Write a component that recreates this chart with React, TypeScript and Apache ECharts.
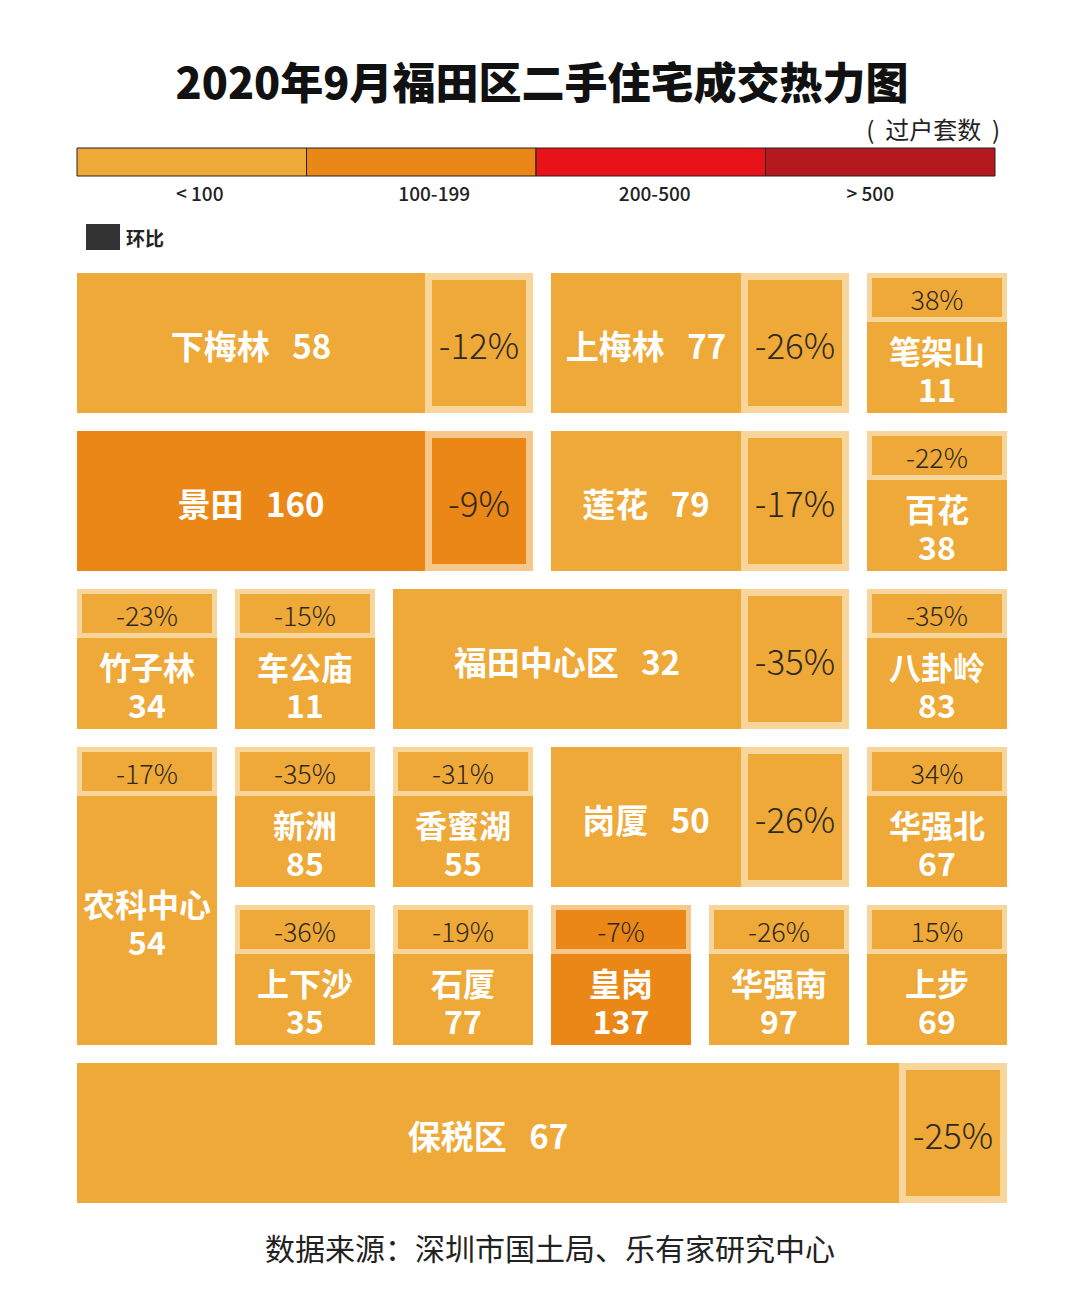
import React, { useEffect, useRef } from 'react';
import * as echarts from 'echarts';

// ---- data ----
const districts = ['下梅林', '上梅林', '笔架山', '景田', '莲花', '百花', '竹子林', '车公庙', '福田中心区', '八卦岭', '农科中心', '新洲', '香蜜湖', '岗厦', '华强北', '上下沙', '石厦', '皇岗', '华强南', '上步', '保税区'];
const deals = [58, 77, 11, 160, 79, 38, 34, 11, 32, 83, 54, 85, 55, 50, 67, 35, 77, 137, 97, 69, 67];
const momChange = [-12, -26, 38, -9, -17, -22, -23, -15, -35, -35, -17, -35, -31, -26, 34, -36, -19, -7, -26, 15, -25];
// tile placement in layout grid units (6 x 6)
const gridCol = [0, 3, 5, 0, 3, 5, 0, 1, 2, 5, 0, 1, 2, 3, 5, 1, 2, 3, 4, 5, 0];
const gridRow = [0, 0, 0, 1, 1, 1, 2, 2, 2, 2, 3, 3, 3, 3, 3, 4, 4, 4, 4, 4, 5];
const colSpan = [3, 2, 1, 3, 2, 1, 1, 1, 3, 1, 1, 1, 1, 2, 1, 1, 1, 1, 1, 1, 6];
const rowSpan = [1, 1, 1, 1, 1, 1, 1, 1, 1, 1, 2, 1, 1, 1, 1, 1, 1, 1, 1, 1, 1];

const legendLabels = ['< 100', '100-199', '200-500', '> 500'];
const legendColors = ['#EEA938', '#EB8716', '#E8131A', '#B5181F'];

const FONT = "'Noto Sans CJK SC', 'Noto Sans', sans-serif";
const GAP = 18;
const SIDE_W = 108;
const STRIP_H = 49;
const FRAME = 'rgba(255,243,220,0.6)';
const DARK = '#2E2A22';
const LABEL_SHIFT = [8, 13, 4, -10];

function txt(text: string, x: number, y: number, size: number, fill: string, weight: any, lineHeight?: number) {
  const style: any = { text, x, y, align: 'center', verticalAlign: 'middle', fill, fontSize: size, fontWeight: weight, fontFamily: FONT };
  if (lineHeight) style.lineHeight = lineHeight;
  return { type: 'text', style };
}

export default function App() {
  const ref = useRef<HTMLDivElement>(null);
  useEffect(() => {
    document.body.style.margin = '0';
    const chart = echarts.init(ref.current!, null, { renderer: 'svg' });
    const data = districts.map((n, i) => [gridCol[i], gridRow[i], colSpan[i], rowSpan[i], deals[i], momChange[i], i]);

    const legendX0 = 77;
    const legendW = 918;
    const segW = legendW / legendLabels.length;
    const legendGraphics: any[] = [];
    legendLabels.forEach((lab, i) => {
      legendGraphics.push({
        type: 'rect',
        shape: { x: legendX0 + i * segW, y: 148, width: segW, height: 28 },
        style: { fill: legendColors[i], stroke: '#222', lineWidth: 1 },
      });
      legendGraphics.push({
        type: 'text',
        style: {
          text: lab, x: legendX0 + i * segW + segW / 2 + LABEL_SHIFT[i], y: 192,
          align: 'center', verticalAlign: 'middle', fill: '#222', fontSize: 19, fontWeight: 500, fontFamily: FONT,
        },
      });
    });

    const option: any = {
      animation: false,
      backgroundColor: '#ffffff',
      grid: { left: 77, top: 273, right: 55, bottom: 70 },
      xAxis: { type: 'value', min: 0, max: 6, show: false },
      yAxis: { type: 'value', min: 0, max: 6, inverse: true, show: false },
      visualMap: {
        type: 'piecewise',
        show: false,
        dimension: 4,
        seriesIndex: 0,
        pieces: [
          { lt: 100, color: legendColors[0] },
          { gte: 100, lt: 200, color: legendColors[1] },
          { gte: 200, lte: 500, color: legendColors[2] },
          { gt: 500, color: legendColors[3] },
        ],
      },
      graphic: [
        {
          type: 'text',
          style: { text: '2020年9月福田区二手住宅成交热力图', x: 542, y: 80, align: 'center', verticalAlign: 'middle', fill: '#111', fontSize: 43, fontWeight: 900, fontFamily: FONT },
        },
        {
          type: 'text',
          style: { text: '(  过户套数  )', x: 1000, y: 128, align: 'right', verticalAlign: 'middle', fill: '#222', fontSize: 24, fontWeight: 'normal', fontFamily: FONT },
        },
        ...legendGraphics,
        { type: 'rect', shape: { x: 86, y: 224, width: 34, height: 26 }, style: { fill: '#333' } },
        {
          type: 'text',
          style: { text: '环比', x: 126, y: 237, align: 'left', verticalAlign: 'middle', fill: '#222', fontSize: 19, fontWeight: 'bold', fontFamily: FONT },
        },
        {
          type: 'text',
          style: { text: '数据来源：深圳市国土局、乐有家研究中心', x: 550, y: 1247, align: 'center', verticalAlign: 'middle', fill: '#222', fontSize: 30, fontWeight: 'normal', fontFamily: FONT },
        },
      ],
      series: [
        {
          type: 'custom',
          data,
          encode: { x: 0, y: 1 },
          renderItem: (params: any, api: any) => {
            const c = api.value(0), r = api.value(1), cs = api.value(2), rs = api.value(3);
            const v = api.value(4), ch = api.value(5), idx = api.value(6);
            const p0 = api.coord([c, r]);
            const p1 = api.coord([c + cs, r + rs]);
            const x = p0[0], y = p0[1];
            const w = p1[0] - p0[0] - GAP;
            const h = p1[1] - p0[1] - GAP;
            const color = api.visual('color');
            const name = districts[idx];
            const chText = ch + '%';
            const children: any[] = [{ type: 'rect', shape: { x, y, width: w, height: h }, style: { fill: color } }];
            if (cs > 1) {
              const bx = x + w - SIDE_W;
              const F = 7;
              children.push({ type: 'rect', shape: { x: bx + F / 2, y: y + F / 2, width: SIDE_W - F, height: h - F }, style: { fill: color, stroke: FRAME, lineWidth: F } });
              children.push(txt(chText, bx + SIDE_W / 2, y + h / 2, 35, DARK, 300));
              children.push(txt(name + '   ' + v, x + (w - SIDE_W) / 2, y + h / 2 + 2, 33, '#fff', 'bold'));
            } else {
              const F = 5;
              children.push({ type: 'rect', shape: { x: x + F / 2, y: y + F / 2, width: w - F, height: STRIP_H - F }, style: { fill: color, stroke: FRAME, lineWidth: F } });
              children.push(txt(chText, x + w / 2, y + STRIP_H / 2 + 1, 27, DARK, 300));
              const yc = y + STRIP_H + (h - STRIP_H) / 2;
              children.push(txt(name + '\n' + v, x + w / 2, yc + 1, 32, '#fff', 'bold', 38));
            }
            return { type: 'group', children };
          },
        },
      ],
    };
    chart.setOption(option);
    return () => chart.dispose();
  }, []);
  return <div ref={ref} style={{ width: 1080, height: 1291 }} />;
}
